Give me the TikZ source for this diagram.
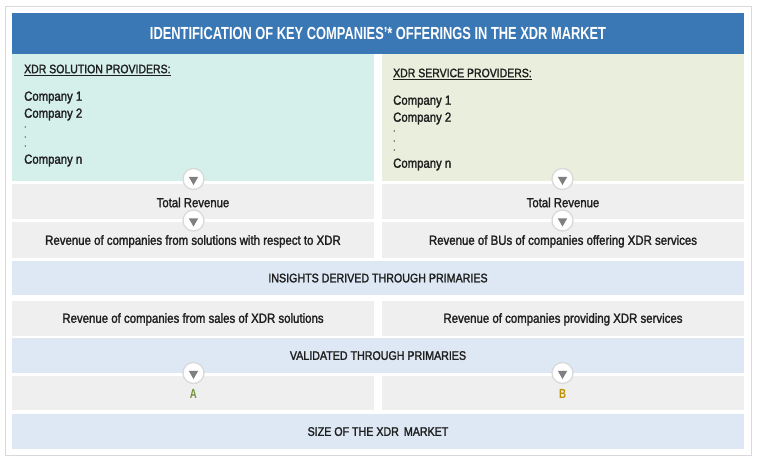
\documentclass[tikz,border=0pt]{standalone}
\usepackage{fontspec}
\setmainfont{Liberation Sans}[FakeStretch=0.86,FakeBold=1.8]
\newfontfamily\titlefont{Liberation Sans Bold}[FakeStretch=0.735]
\usepackage{tikz}
\usetikzlibrary{shapes.geometric}
\definecolor{headblue}{HTML}{3A78B5}
\definecolor{solgreen}{HTML}{D5F0EB}
\definecolor{srvgreen}{HTML}{EAEFDD}
\definecolor{rowgray}{HTML}{EFEFEF}
\definecolor{rowblue}{HTML}{DDE8F4}
\definecolor{framegray}{HTML}{D9D9D9}
\definecolor{inktext}{HTML}{1F1F1F}
\definecolor{arrowgray}{HTML}{7F7F7F}
\definecolor{letterA}{HTML}{76923C}
\definecolor{letterB}{HTML}{BF9000}
\tikzset{
  panel/.style={inner sep=0, outer sep=0, minimum height=#1},
  half/.style={panel=#1, minimum width=362, fill=rowgray, text=inktext, text depth=0, font=\fontsize{13.3}{15}\selectfont},
  full/.style={panel=#1, minimum width=732, fill=rowblue, text=inktext, text depth=0, font=\fontsize{12.4}{15}\selectfont},
  entry/.style={anchor=west, inner sep=0, text=inktext, font=\fontsize{13.2}{15}\selectfont},
  headline/.style={anchor=west, inner sep=0, text=inktext, font=\fontsize{12.2}{15}\selectfont},
  speck/.style={anchor=west, inner sep=0, text=inktext, font=\fontsize{8}{8}\selectfont},
  knob/.style={circle, draw=framegray, line width=1.3, fill=white, minimum size=21, inner sep=0},
  tip/.style={regular polygon, regular polygon sides=3, shape border rotate=180, fill=arrowgray, inner sep=0, minimum size=11},
}
\begin{document}
\begin{tikzpicture}[x=1pt,y=-1pt]
\useasboundingbox (0,0) rectangle (761,463);
\fill[white] (0,0) rectangle (761,463);
\draw[framegray, line width=1] (5.5,6.5) rectangle (751.5,455);

\draw (378,33.5) node (title) [panel=41, minimum width=732, fill=headblue, text=white, font=\titlefont\fontsize{17.5}{18}\selectfont] {IDENTIFICATION OF KEY COMPANIES’* OFFERINGS IN THE XDR MARKET};

% provider panels
\draw (193,117.5) node (sol) [panel=127, minimum width=362, fill=solgreen] {};
\draw (563,117.5) node (srv) [panel=127, minimum width=362, fill=srvgreen] {};

\draw (24,70)    node (solh) [headline] {\underline{XDR SOLUTION PROVIDERS:}};
\draw (24,97.5)  node (sol1) [entry] {Company 1};
\draw (24,114.5) node (sol2) [entry] {Company 2};
\draw (24,127)   node (sold1) [speck] {.};
\draw (24,137)   node (sold2) [speck] {.};
\draw (24,146)   node (sold3) [speck] {.};
\draw (24,160.5) node (soln) [entry] {Company n};

\draw (393,74)    node (srvh) [headline] {\underline{XDR SERVICE PROVIDERS:}};
\draw (393,101.5) node (srv1) [entry] {Company 1};
\draw (393,118.5) node (srv2) [entry] {Company 2};
\draw (393,131)   node (srvd1) [speck] {.};
\draw (393,141)   node (srvd2) [speck] {.};
\draw (393,150)   node (srvd3) [speck] {.};
\draw (393,164.5) node (srvn) [entry] {Company n};

% rows
\draw (193,201.5) node (rev1) [half=35] {};
\draw (563,201.5) node (rev2) [half=35] {};
\draw (193,202.5) node (revt1) [text=inktext, font=\fontsize{13.2}{15}\selectfont] {Total Revenue};
\draw (563,202.5) node (revt2) [text=inktext, font=\fontsize{13.2}{15}\selectfont] {Total Revenue};

\draw (193,240) node (bu1) [half=36] {Revenue of companies from solutions with respect to XDR};
\draw (563,240) node (bu2) [half=36] {Revenue of BUs of companies offering XDR services};

\draw (378,278) node (ins) [full=34] {INSIGHTS DERIVED THROUGH PRIMARIES};

\draw (193,318) node (sal1) [half=35] {Revenue of companies from sales of XDR solutions};
\draw (563,318) node (sal2) [half=35] {Revenue of companies providing XDR services};

\draw (378,355.5) node (val) [full=35] {VALIDATED THROUGH PRIMARIES};

\draw (193,393) node (a1) [half=34] {};
\draw (563,393) node (b1) [half=34] {};
\draw (193.5,393.5) node (ta) [text=letterA, font=\titlefont\fontsize{13.2}{15}\selectfont] {A};
\draw (562.5,393.5) node (tb) [text=letterB, font=\titlefont\fontsize{13.2}{15}\selectfont] {B};

\draw (378,431.5) node (size) [full=35] {SIZE OF THE XDR\ \,MARKET};

% arrows between the rows
\foreach \nx/\cx in {l/193.5,r/562.5} {
  \foreach \ny/\cy in {1/179,2/220.5,3/373} {
    \draw (\cx,\cy) node (k\nx\ny) [knob] {};
    \draw (\cx,\cy+0.5) node (t\nx\ny) [tip] {};
  }
}
\end{tikzpicture}
\end{document}
